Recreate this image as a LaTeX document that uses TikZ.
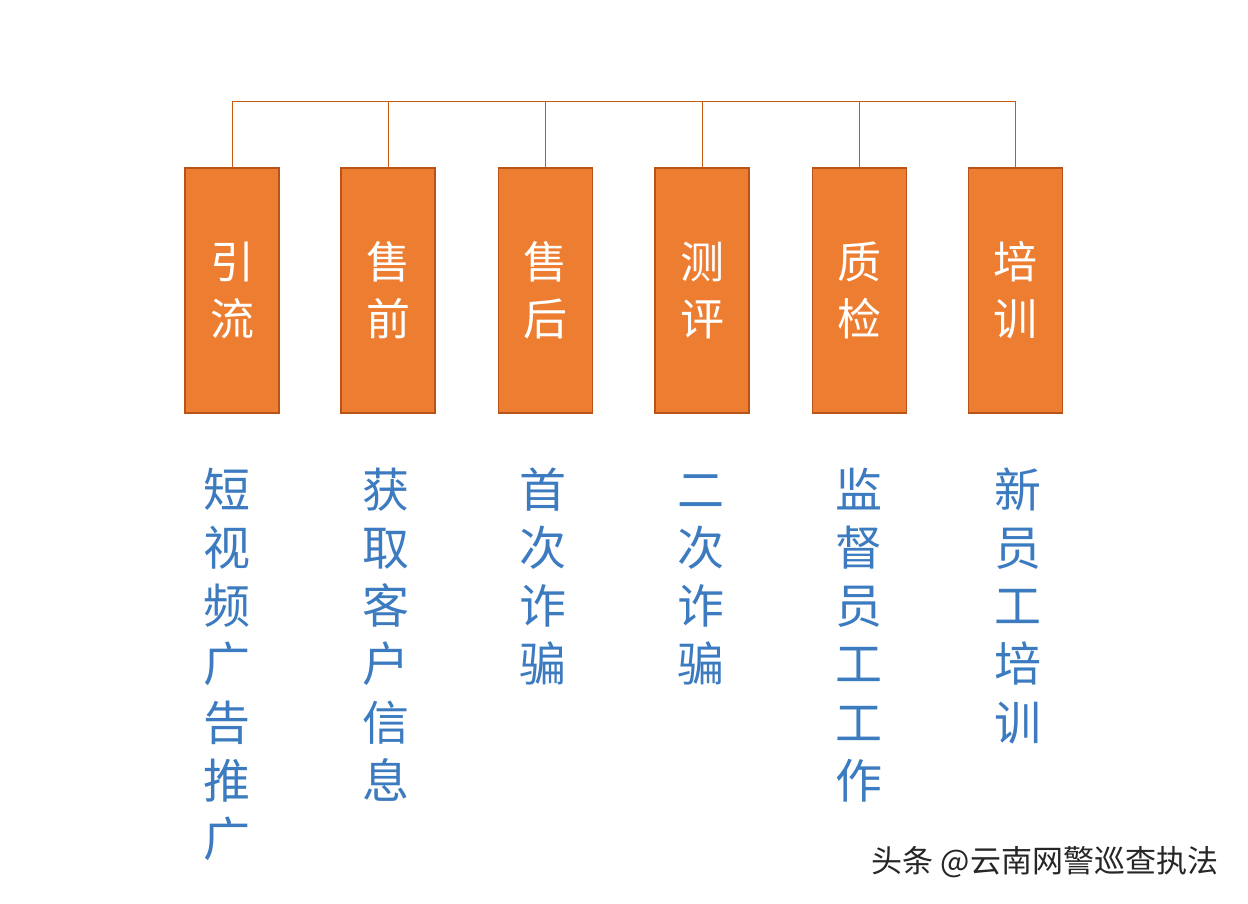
\documentclass[tikz,border=0pt]{standalone}
\usepackage{fontspec}
\newfontfamily\cjk{Noto Sans CJK SC}
\definecolor{boxfill}{HTML}{ED7D31}
\definecolor{boxedge}{HTML}{B85418}
\definecolor{linec}{HTML}{C55A11}
\definecolor{bluetext}{HTML}{3C7BBF}
\tikzset{
  stage/.style={draw=boxedge, line width=1.2pt, fill=boxfill, minimum width=94pt, minimum height=245pt, inner sep=0pt,
    text=white, font=\cjk\fontsize{44}{57}\selectfont, align=center},
  desc/.style={anchor=north, inner sep=0pt, text=bluetext, font=\cjk\fontsize{47}{58.3}\selectfont, align=center},
  conn/.style={draw=linec, line width=1pt},
}
\begin{document}
\begin{tikzpicture}[x=1pt,y=-1pt]
\useasboundingbox[fill=white] (0,0) rectangle (1248,904);
\foreach \i/\x/\a/\b in {1/232/引/流, 2/388/售/前, 3/545.5/售/后, 4/702/测/评, 5/859.5/质/检, 6/1015.5/培/训}{
  \node[stage] (s\i) at (\x,290.5) {\a\\\b};
  \coordinate (t\i) at (\x,102);
}
\draw[conn] (t1) -- (t6);
\foreach \i in {1,...,6}{ \draw[conn] (t\i) -- (s\i.north); }
\node[desc] (d1) at (227,466) {\strut 短\\视\\频\\广\\告\\推\\广};
\node[desc] (d2) at (386,466) {\strut 获\\取\\客\\户\\信\\息};
\node[desc] (d3) at (543,466) {\strut 首\\次\\诈\\骗};
\node[desc] (d4) at (701,466) {\strut 二\\次\\诈\\骗};
\node[desc] (d5) at (859,466) {\strut 监\\督\\员\\工\\工\\作};
\node[desc] (d6) at (1018,466) {\strut 新\\员\\工\\培\\训};
\node[font=\cjk\fontsize{31}{36}\selectfont, text=black!85, inner sep=0pt] (wm) at (1045,862) {头条 @云南网警巡查执法};
\end{tikzpicture}
\end{document}
